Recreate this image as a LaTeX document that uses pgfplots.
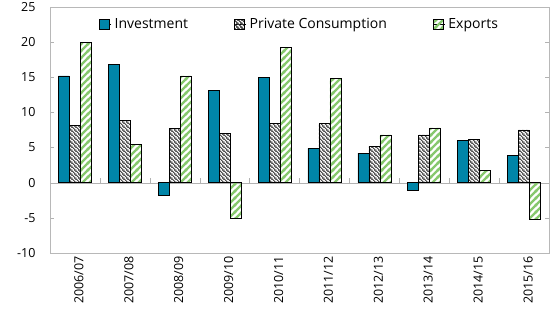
\documentclass[border=0pt]{standalone}
\usepackage{pgfplots}
\pgfplotsset{compat=1.18}
\usepackage{fontspec}
\setmainfont{Open Sans}
\usetikzlibrary{patterns}
\definecolor{invcol}{RGB}{0,133,168}
\definecolor{expcol}{RGB}{135,200,110}
\definecolor{pccol}{RGB}{55,55,55}
% wide green stripes (/)
\pgfdeclarepatternformonly{gstripes}{\pgfpoint{0bp}{0bp}}{\pgfpoint{7.4bp}{7.4bp}}{\pgfpoint{7.4bp}{7.4bp}}{
  \pgfsetlinewidth{2.6bp}
  \pgfpathmoveto{\pgfpoint{-2bp}{-2bp}}\pgfpathlineto{\pgfpoint{9.4bp}{9.4bp}}
  \pgfpathmoveto{\pgfpoint{-3bp}{4.4bp}}\pgfpathlineto{\pgfpoint{3bp}{10.4bp}}
  \pgfpathmoveto{\pgfpoint{4.4bp}{-3bp}}\pgfpathlineto{\pgfpoint{10.4bp}{3bp}}
  \pgfusepath{stroke}}
% dense dark stripes (\)
\pgfdeclarepatternformonly{kstripes}{\pgfpoint{0bp}{0bp}}{\pgfpoint{3.6bp}{3.6bp}}{\pgfpoint{3.6bp}{3.6bp}}{
  \pgfsetlinewidth{1.1bp}
  \pgfpathmoveto{\pgfpoint{-2bp}{5.6bp}}\pgfpathlineto{\pgfpoint{5.6bp}{-2bp}}
  \pgfpathmoveto{\pgfpoint{-2bp}{2bp}}\pgfpathlineto{\pgfpoint{2bp}{-2bp}}
  \pgfpathmoveto{\pgfpoint{1.6bp}{5.6bp}}\pgfpathlineto{\pgfpoint{5.6bp}{1.6bp}}
  \pgfusepath{stroke}}
\begin{document}
\begin{tikzpicture}
\begin{axis}[
 scale only axis, width=499bp, height=246bp,
 ybar=0pt, bar width=11bp,
 xmin=-0.5, xmax=9.5, ymin=-10, ymax=25,
 xtick={0,...,9},
 xticklabels={2006/07,2007/08,2008/09,2009/10,2010/11,2011/12,2012/13,2013/14,2014/15,2015/16},
 ytick={-10,-5,0,5,10,15,20,25},
 yticklabels={-10,-5,0,5,10,15,20,25},
 axis line style={draw=black!28},
 x tick style={draw=none},
 y tick style={draw=black!30},
 major tick length=4bp, tick align=inside,
 xticklabel style={rotate=90, anchor=east, yshift=-4bp},
 yticklabel style={xshift=-11bp},
 font=\fontsize{12.5bp}{15bp}\selectfont,
 legend style={at={(0.5,1)}, anchor=north, yshift=-9bp, draw=none, fill=none,
   legend columns=3, font=\fontsize{14bp}{16bp}\selectfont,
   /tikz/every even column/.append style={column sep=44bp},
   inner sep=0pt, /tikz/every odd column/.append style={column sep=1bp}},
 legend image code/.code={\path (0bp,0bp) -- (12bp,0bp);\draw[#1,draw=black,line width=0.6bp] (0bp,-5bp) rectangle (10bp,5bp);},
]
\draw[black!30] (axis cs:-0.5,0) -- (axis cs:9.5,0);
\draw[black!30] (axis cs:0.5,0) -- (axis cs:0.5,0.7) (axis cs:1.5,0) -- (axis cs:1.5,0.7) (axis cs:2.5,0) -- (axis cs:2.5,0.7)
 (axis cs:3.5,0) -- (axis cs:3.5,0.7) (axis cs:4.5,0) -- (axis cs:4.5,0.7) (axis cs:5.5,0) -- (axis cs:5.5,0.7)
 (axis cs:6.5,0) -- (axis cs:6.5,0.7) (axis cs:7.5,0) -- (axis cs:7.5,0.7) (axis cs:8.5,0) -- (axis cs:8.5,0.7);
\addplot[fill=invcol, draw=black, line width=0.6bp] coordinates {
 (0,15.2) (1,16.8) (2,-1.8) (3,13.1) (4,15.0) (5,4.9) (6,4.2) (7,-1.1) (8,6.0) (9,3.9)};
\addlegendentry{Investment}
\addplot[draw=black, line width=0.6bp, pattern=kstripes, pattern color=pccol] coordinates {
 (0,8.1) (1,8.9) (2,7.7) (3,7.0) (4,8.4) (5,8.4) (6,5.2) (7,6.8) (8,6.2) (9,7.5)};
\addlegendentry{Private Consumption}
\addplot[draw=black, line width=0.6bp, pattern=gstripes, pattern color=expcol] coordinates {
 (0,20.0) (1,5.4) (2,15.2) (3,-5.0) (4,19.2) (5,14.8) (6,6.8) (7,7.8) (8,1.7) (9,-5.2)};
\addlegendentry{Exports}
\end{axis}
\pgfresetboundingbox
\path[use as bounding box] ([shift={(-50bp,-69bp)}]current axis.south west) rectangle ([shift={(502bp,253bp)}]current axis.south west);
\end{tikzpicture}
\end{document}
